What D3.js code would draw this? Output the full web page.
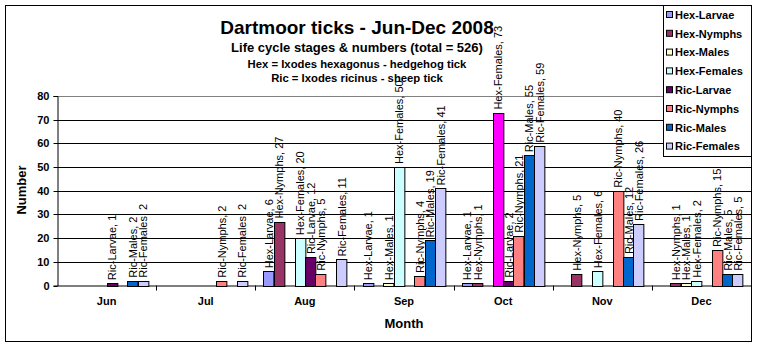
<!DOCTYPE html>
<html>
<head>
<meta charset="utf-8">
<script src="https://cdn.jsdelivr.net/npm/d3@7"></script>
<style>
  html, body { margin: 0; padding: 0; background: #fff; }
  svg { display: block; font-family: "Liberation Sans", Arial, sans-serif; }
</style>
</head>
<body>
<svg id="chart" width="757" height="347"></svg>
<script>
// Monthly tick counts by species and life cycle stage
const months = ["Jun", "Jul", "Aug", "Sep", "Oct", "Nov", "Dec"];
const seriesNames = ["Hex-Larvae", "Hex-Nymphs", "Hex-Males", "Hex-Females",
                     "Ric-Larvae", "Ric-Nymphs", "Ric-Males", "Ric-Females"];
const hexLarvae  = [0, 0, 6, 1, 1, 0, 0];
const hexNymphs  = [0, 0, 27, 0, 1, 5, 1];
const hexMales   = [0, 0, 0, 1, 0, 0, 1];
const hexFemales = [0, 0, 20, 50, 73, 6, 2];
const ricLarvae  = [1, 0, 12, 0, 2, 0, 0];
const ricNymphs  = [0, 2, 5, 4, 21, 40, 15];
const ricMales   = [2, 0, 0, 19, 55, 12, 5];
const ricFemales = [2, 2, 11, 41, 59, 26, 5];
const yTicks = [0, 10, 20, 30, 40, 50, 60, 70, 80];

const seriesValues = [hexLarvae, hexNymphs, hexMales, hexFemales,
                      ricLarvae, ricNymphs, ricMales, ricFemales];

// Fill colours per series, plus one highlighted bar
const seriesColors = ["#9999FF", "#993366", "#FFFFCC", "#CCFFFF",
                      "#660066", "#FF8080", "#0066CC", "#CCCCFF"];
const highlight = { series: "Hex-Females", month: "Oct", color: "#FF00FF" };

const svg = d3.select("#chart");
const plot = { left: 57, right: 751, top: 96, bottom: 285.5 };

// Outer frame
svg.append("rect")
  .attr("x", 5.5).attr("y", 5.5).attr("width", 746).attr("height", 336)
  .attr("fill", "#fff").attr("stroke", "#000").attr("stroke-width", 1);

const x0 = d3.scaleBand().domain(months).range([plot.left, plot.right]).padding(0);
const x1 = d3.scaleBand().domain(seriesNames).range([0, x0.bandwidth()])
  .paddingInner(0).paddingOuter(0.79);
const y = d3.scaleLinear().domain([0, 80]).range([plot.bottom, plot.top]);

// Gridlines
svg.append("g").selectAll("line")
  .data(yTicks.filter(d => d > 0))
  .join("line")
  .attr("x1", plot.left).attr("x2", plot.right)
  .attr("y1", d => Math.round(y(d)) + 0.5).attr("y2", d => Math.round(y(d)) + 0.5)
  .attr("stroke", d => d === 80 ? "#808080" : "#000")
  .attr("stroke-width", 1);

// Y axis
const yAxis = svg.append("g")
  .attr("transform", `translate(${plot.left + 0.5},0)`)
  .call(d3.axisLeft(y).tickValues(yTicks).tickSize(4).tickPadding(4).tickFormat(d3.format("d")));
yAxis.select(".domain").attr("stroke", "#000");
yAxis.selectAll(".tick line").attr("stroke", "#000");
yAxis.selectAll(".tick text")
  .attr("font-size", 11).attr("font-weight", "bold").attr("fill", "#000")
  .attr("font-family", "'Liberation Sans', Arial, sans-serif");
yAxis.selectAll(".tick").attr("transform", d => `translate(0,${Math.round(y(d)) + 0.5})`);

// X axis
const xAxis = svg.append("g")
  .attr("transform", `translate(0,${plot.bottom})`)
  .call(d3.axisBottom(x0).tickSize(0).tickPadding(12));
xAxis.select(".domain").attr("stroke", "#000");
xAxis.selectAll(".tick text")
  .attr("font-size", 11).attr("font-weight", "bold").attr("fill", "#000")
  .attr("font-family", "'Liberation Sans', Arial, sans-serif");
// Category boundary tick marks
xAxis.append("g").selectAll("line")
  .data(months.slice(1))
  .join("line")
  .attr("x1", d => Math.round(x0(d)) + 0.5).attr("x2", d => Math.round(x0(d)) + 0.5)
  .attr("y1", 0).attr("y2", 5)
  .attr("stroke", "#000");

// Bars
const bars = [];
months.forEach((m, mi) => {
  seriesNames.forEach((s, si) => {
    const v = seriesValues[si][mi];
    if (v > 0) bars.push({ month: m, series: s, value: v, si });
  });
});

const barG = svg.append("g");
barG.selectAll("rect")
  .data(bars)
  .join("rect")
  .attr("x", d => Math.round(x0(d.month) + x1(d.series)) + 0.5)
  .attr("y", d => Math.round(y(d.value)) + 0.5)
  .attr("width", x1.bandwidth())
  .attr("height", d => Math.round(y(0)) - Math.round(y(d.value)))
  .attr("fill", d => (d.series === highlight.series && d.month === highlight.month)
    ? highlight.color : seriesColors[d.si])
  .attr("stroke", "#000").attr("stroke-width", 1);

// Value labels
svg.append("g").selectAll("text")
  .data(bars)
  .join("text")
  .attr("transform", d => {
    const cx = x0(d.month) + x1(d.series) + x1.bandwidth() / 2 + 0.5;
    return `translate(${cx},${y(d.value) - 3}) rotate(-90)`;
  })
  .attr("dy", "0.36em")
  .attr("font-size", 11).attr("fill", "#000")
  .text(d => `${d.series}, ${d.value}`);

// Titles
const titles = [
  { text: "Dartmoor ticks - Jun-Dec 2008", y: 34, size: 19 },
  { text: "Life cycle stages & numbers (total = 526)", y: 52, size: 13 },
  { text: "Hex = Ixodes hexagonus - hedgehog tick", y: 67.5, size: 11.3 },
  { text: "Ric = Ixodes ricinus - sheep tick", y: 82, size: 11.3 }
];
svg.append("g").selectAll("text")
  .data(titles)
  .join("text")
  .attr("x", 357).attr("y", d => d.y)
  .attr("text-anchor", "middle")
  .attr("font-weight", "bold").attr("font-size", d => d.size)
  .attr("fill", "#000")
  .text(d => d.text);

// Axis titles
svg.append("text")
  .attr("x", (plot.left + plot.right) / 2).attr("y", 328)
  .attr("text-anchor", "middle").attr("font-weight", "bold").attr("font-size", 13)
  .text("Month");
svg.append("text")
  .attr("transform", "translate(26,190) rotate(-90)")
  .attr("text-anchor", "middle").attr("font-weight", "bold").attr("font-size", 13)
  .text("Number");

// Legend
const legend = svg.append("g");
legend.append("rect")
  .attr("x", 663.5).attr("y", 5.5).attr("width", 88).attr("height", 151)
  .attr("fill", "#fff").attr("stroke", "#000");
const items = legend.selectAll("g.item")
  .data(seriesNames)
  .join("g")
  .attr("class", "item")
  .attr("transform", (d, i) => `translate(666,${15 + i * 18.8})`);
items.append("rect")
  .attr("x", 0.5).attr("y", -3.5).attr("width", 6).attr("height", 6)
  .attr("fill", (d, i) => seriesColors[i]).attr("stroke", "#000");
items.append("text")
  .attr("x", 9).attr("dy", "0.35em")
  .attr("font-size", 11).attr("font-weight", "bold")
  .text(d => d);
</script>
</body>
</html>
